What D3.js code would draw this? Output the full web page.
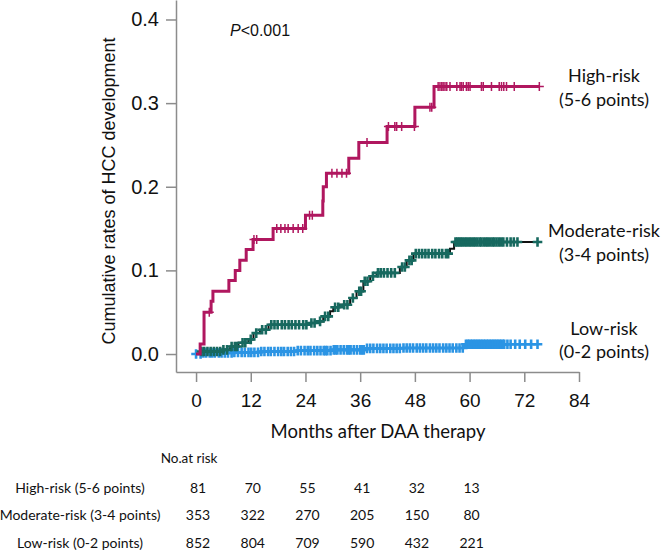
<!DOCTYPE html>
<html>
<head>
<meta charset="utf-8">
<script src="https://cdn.jsdelivr.net/npm/d3@7"></script>
<style>
  html, body { margin: 0; padding: 0; background: #fff; }
  svg { display: block; }
</style>
</head>
<body>
<svg id="chart" width="663" height="551"></svg>
<script>
// ---------- DATA ----------
const xTicks = [0, 12, 24, 36, 48, 60, 72, 84];
const yTicks = [0.0, 0.1, 0.2, 0.3, 0.4];

const groupNames = ["High-risk", "Moderate-risk", "Low-risk"];
const groupPoints = ["(5-6 points)", "(3-4 points)", "(0-2 points)"];
const tableLabels = ["High-risk (5-6 points)", "Moderate-risk (3-4 points)", "Low-risk (0-2 points)"];
const riskTimes = [0, 12, 24, 36, 48, 60];
const highAtRisk = [81, 70, 55, 41, 32, 13];
const moderateAtRisk = [353, 322, 270, 205, 150, 80];
const lowAtRisk = [852, 804, 709, 590, 432, 221];

// step events: [month, cumulative rate]
const highSteps = [[0,0],[0.9,0.012],[1.75,0.05],[3.3,0.063],[3.7,0.075],[7.2,0.088],[8.6,0.1],[9.6,0.112],[11,0.125],[12.5,0.137],[16.9,0.15],[24,0.166],[27.8,0.183],[27.9,0.2],[28.6,0.216],[33.5,0.234],[35.7,0.253],[41.9,0.272],[48,0.295],[52.2,0.32]];
const highEnd = 75.3;
const highCensor = [2.9,12.7,13.3,17.7,18.6,19.5,20.2,21.3,22.4,23.4,24.9,25.5,29.8,30.9,32,33,37.5,42.2,43.6,44,45.1,47.9,51.3,51.7,53.1,53.5,53.9,54.2,54.6,55,55.7,57.2,57.9,58.2,58.6,59.3,59.7,60.1,62.6,63,64.8,66.5,67,67.5,68.1,69.8,75.3];

const moderateSteps = [[0,0],[1.0,0.003],[5.9,0.005],[7.5,0.009],[9.3,0.0135],[11.5,0.0175],[12.6,0.025],[14.0,0.029],[15.9,0.035],[24.6,0.037],[26.5,0.039],[27.9,0.045],[29.4,0.051],[30.1,0.056],[31.6,0.059],[33.8,0.067],[35.2,0.075],[36.7,0.087],[38.2,0.093],[39.6,0.097],[44.7,0.104],[46.2,0.112],[47.7,0.12],[55.7,0.126],[56.6,0.134]];
const moderateEnd = 74.9;
const moderateCensor = [1.2,1.8,2.5,3.2,3.9,4.6,5.3,6.0,6.8,7.8,8.5,9.0,10.2,10.8,12.0,13.2,14.5,15.3,16.5,17.2,17.9,18.8,19.5,20.3,21.0,21.8,22.6,23.5,24.2,25.3,26.0,27.2,28.3,29.0,30.5,31.2,32.5,33.2,34.4,35.8,36.2,37.0,37.6,38.8,39.9,40.5,41.2,42.0,42.8,43.6,45.2,45.8,46.8,47.3,48.2,48.9,49.6,50.3,51.0,51.8,52.5,53.3,54.0,54.8,55.3,56.9,57.3,57.7,58.1,58.5,59.0,59.4,59.9,60.3,60.8,61.2,61.7,62.2,62.6,63.1,63.6,64.0,64.5,65.0,65.4,65.9,66.4,66.9,67.4,68.2,69.0,69.7,70.5,74.9];

const lowSteps = [[0,0],[1.5,0.0012],[8,0.002],[14,0.003],[22,0.004],[30,0.005],[37,0.0068],[45,0.0072],[59,0.0116]];
const lowEnd = 74.9;
const lowCensor = [0,1,1.6,2.2,3,3.5,4.1,5,5.6,6.3,7,7.8,8.4,9.2,10,10.7,11.5,12.1,12.8,13.6,14.3,15,15.8,16.4,17.2,18,18.7,19.3,20.1,20.8,21.5,22.3,23,23.8,24.5,25.1,25.9,26.6,27.3,28,28.4,28.8,29.5,30.2,30.6,31,31.7,32.4,33.1,33.5,33.9,34.6,35.3,36,36.4,36.8,37.5,38.2,38.9,39.7,40.4,41.1,41.8,42.6,43.3,44,44.7,45.5,46.2,46.9,47.6,48.4,49.1,49.8,50.5,51.3,52,52.7,53.4,54.2,54.9,55.6,56.3,57.1,57.8,58.5,59.2,59.6,59.9,60.3,60.6,61,61.3,61.7,62,62.4,62.7,63.1,63.4,63.8,64.1,64.5,64.8,65.2,65.5,65.9,66.2,66.6,66.9,67.3,67.6,68.3,69,70,71,72.2,73.5,74.9];

// ---------- CHART ----------
const svg = d3.select("#chart");
const tickFont = "'Liberation Sans', Arial, sans-serif";
const labelFont = "Lato, 'Open Sans', sans-serif";

const x = d3.scaleLinear().domain([-4.4, 84]).range([176, 579]);
const y = d3.scaleLinear().domain([-0.0215, 0.4233]).range([372, 0]);

const axisColor = "#8c8c8c";

// Y axis
const gy = svg.append("g").attr("transform", "translate(176,0)")
  .call(d3.axisLeft(y).tickValues(yTicks).tickFormat(d3.format(".1f")).tickSize(10).tickSizeOuter(0).tickPadding(7));
gy.selectAll("path.domain").attr("stroke", axisColor).attr("stroke-width", 1.5);
gy.selectAll(".tick line").attr("stroke", axisColor).attr("stroke-width", 1.5);
gy.selectAll(".tick text").attr("font-family", tickFont).attr("font-size", 20).attr("fill", "#111");

// X axis
const gx = svg.append("g").attr("transform", "translate(0,372)")
  .call(d3.axisBottom(x).tickValues(xTicks).tickFormat(d3.format("d")).tickSize(10).tickSizeOuter(0).tickPadding(12));
gx.selectAll("path.domain").attr("stroke", axisColor).attr("stroke-width", 1.5);
gx.selectAll(".tick line").attr("stroke", axisColor).attr("stroke-width", 1.5);
gx.selectAll(".tick text").attr("font-family", tickFont).attr("font-size", 19).attr("fill", "#111");

// Y title
svg.append("text")
  .attr("transform", "translate(115,191) rotate(-90)")
  .attr("text-anchor", "middle")
  .attr("font-family", tickFont).attr("font-size", 18).attr("fill", "#111")
  .text("Cumulative rates of HCC development");

// X title
svg.append("text")
  .attr("x", 378).attr("y", 438)
  .attr("text-anchor", "middle")
  .attr("font-family", labelFont).attr("font-size", 18.5).attr("fill", "#111")
  .text("Months after DAA therapy");

// P value
const pt = svg.append("text").attr("x", 230).attr("y", 36)
  .attr("font-family", tickFont).attr("font-size", 16).attr("fill", "#111");
pt.append("tspan").attr("font-style", "italic").text("P");
pt.append("tspan").text("<0.001");

// curves
const line = d3.line().x(d => x(d[0])).y(d => y(d[1])).curve(d3.curveStepAfter);
function valueAt(steps, t) {
  const i = d3.bisector(d => d[0]).right(steps, t) - 1;
  return steps[Math.max(0, i)][1];
}
function crossPath(s) { return `M${-s},0H${s}M0,${-s}V${s}`; }

const groups = [
  { steps: lowSteps, end: lowEnd, censor: lowCensor, line: "#2b94e4", lw: 2, mark: "#2b94e4", ms: 4.8, mw: 2.6 },
  { steps: moderateSteps, end: moderateEnd, censor: moderateCensor, line: "#111", lw: 2, mark: "#17695f", ms: 4.8, mw: 2.6 },
  { steps: highSteps, end: highEnd, censor: highCensor, line: "#b0175f", lw: 3, mark: "#b0175f", ms: 4.5, mw: 1.5 }
];

groups.forEach(g => {
  const pts = g.steps.concat([[g.end, g.steps[g.steps.length - 1][1]]]);
  const gg = svg.append("g");
  gg.append("path").datum(pts).attr("d", line)
    .attr("fill", "none").attr("stroke", g.line).attr("stroke-width", g.lw);
  gg.selectAll("path.c").data(g.censor).join("path").attr("class", "c")
    .attr("transform", t => `translate(${x(t)},${y(valueAt(g.steps, t))})`)
    .attr("d", crossPath(g.ms))
    .attr("fill", "none").attr("stroke", g.mark).attr("stroke-width", g.mw);
});

// right labels
const rightY = [[82, 106], [237, 261], [335, 358]];
groupNames.forEach((n, i) => {
  svg.append("text").attr("x", 604).attr("y", rightY[i][0]).attr("text-anchor", "middle")
    .attr("font-family", labelFont).attr("font-size", 18).attr("fill", "#111").text(n);
  svg.append("text").attr("x", 604).attr("y", rightY[i][1]).attr("text-anchor", "middle")
    .attr("font-family", labelFont).attr("font-size", 18).attr("fill", "#111").text(groupPoints[i]);
});

// risk table
svg.append("text").attr("x", 189).attr("y", 463).attr("text-anchor", "middle")
  .attr("font-family", labelFont).attr("font-size", 13.5).attr("fill", "#111").text("No.at risk");
const rowY = [493, 520, 548];
const rows = [highAtRisk, moderateAtRisk, lowAtRisk];
rows.forEach((r, i) => {
  svg.append("text").attr("x", 80).attr("y", rowY[i]).attr("text-anchor", "middle")
    .attr("font-family", labelFont).attr("font-size", 14).attr("fill", "#111").text(tableLabels[i]);
  svg.selectAll(null).data(r).join("text")
    .attr("x", (d, j) => x(riskTimes[j]) + 2).attr("y", rowY[i]).attr("text-anchor", "middle")
    .attr("font-family", labelFont).attr("font-size", 14).attr("fill", "#111").text(d => d);
});
</script>
</body>
</html>
